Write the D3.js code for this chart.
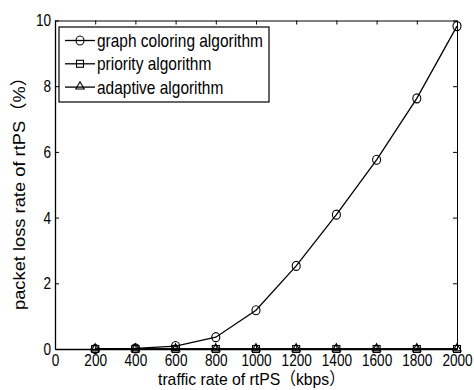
<!DOCTYPE html>
<html>
<head>
<meta charset="utf-8">
<script src="https://cdn.jsdelivr.net/npm/d3@7"></script>
<style>
  body { margin: 0; background: #fff; }
  text { font-family: "Liberation Sans", Arial, "Noto Sans CJK SC", sans-serif; }
</style>
</head>
<body>
<div id="chart"></div>
<script>
// traffic rate (kbps)
const rates = [200, 400, 600, 800, 1000, 1200, 1400, 1600, 1800, 2000];
// packet loss (%)
const graphColoring = [0, 0.02, 0.09, 0.36, 1.18, 2.53, 4.09, 5.76, 7.63, 9.83];
const priority = [0, 0, 0, 0, 0, 0, 0, 0, 0, 0];
const adaptive = [0, 0, 0, 0, 0, 0, 0, 0, 0, 0];
const seriesNames = ["graph coloring algorithm", "priority algorithm", "adaptive algorithm"];
const xTicks = [0, 200, 400, 600, 800, 1000, 1200, 1400, 1600, 1800, 2000];
const yTicks = [0, 2, 4, 6, 8, 10];

const totalWidth = 474, totalHeight = 390;
const plotLeft = 55, plotRight = 457, plotTop = 20.5, plotBottom = 349;
// the original font is a condensed helvetica, squeeze text horizontally
const squeeze = "scale(0.8,1)";

const svg = d3.select("#chart").append("svg")
  .attr("width", totalWidth)
  .attr("height", totalHeight);

const x = d3.scaleLinear().domain([0, 2000]).range([plotLeft, plotRight]);
const y = d3.scaleLinear().domain([0, 10]).range([plotBottom, plotTop]);

// frame with inward ticks (matlab style)
svg.append("g")
  .attr("transform", "translate(0," + plotBottom + ")")
  .call(d3.axisBottom(x).tickValues(xTicks).tickFormat(d3.format("d")).tickSize(-4).tickPadding(5).tickSizeOuter(0))
  .call(g => g.select(".domain").attr("stroke-width", 1.3))
  .selectAll("text").attr("font-size", 17).attr("fill", "#000").attr("transform", squeeze);
svg.append("g")
  .attr("transform", "translate(0," + plotTop + ")")
  .call(d3.axisTop(x).tickValues(xTicks).tickSize(-4).tickFormat("").tickSizeOuter(0));
svg.append("g")
  .attr("transform", "translate(" + plotLeft + ",0)")
  .call(d3.axisLeft(y).tickValues(yTicks).tickSize(-4).tickPadding(5).tickSizeOuter(0))
  .call(g => g.select(".domain").attr("stroke-width", 1.3))
  .selectAll("text").attr("font-size", 17).attr("fill", "#000").attr("transform", squeeze);
svg.append("g")
  .attr("transform", "translate(" + plotRight + ",0)")
  .call(d3.axisRight(y).tickValues(yTicks).tickSize(-4).tickFormat("").tickSizeOuter(0));

// axis titles
svg.append("text")
  .attr("x", 251.5).attr("y", 385)
  .attr("text-anchor", "middle").attr("font-size", 17)
  .attr("textLength", 187).attr("lengthAdjust", "spacingAndGlyphs")
  .text("traffic rate of rtPS（kbps）");
svg.append("text")
  .attr("transform", "translate(25,189) rotate(-90)")
  .attr("text-anchor", "middle").attr("font-size", 17)
  .attr("textLength", 242).attr("lengthAdjust", "spacingAndGlyphs")
  .text("packet loss rate of rtPS（%）");

const line = d3.line().x(d => x(d[0])).y(d => y(d[1]));
const series = [graphColoring, priority, adaptive].map(vals => rates.map((r, i) => [r, vals[i]]));

// marker drawers
function drawMarker(g, kind, cx, cy) {
  if (kind === 0) {
    g.append("ellipse").attr("cx", cx).attr("cy", cy).attr("rx", 4).attr("ry", 4.5)
      .attr("fill", "none").attr("stroke", "#000").attr("stroke-width", 1.1);
  } else if (kind === 1) {
    g.append("rect").attr("x", cx - 3.5).attr("y", cy - 3.5).attr("width", 7).attr("height", 7)
      .attr("fill", "none").attr("stroke", "#000").attr("stroke-width", 1.1);
  } else {
    g.append("path").attr("d", d3.symbol(d3.symbolTriangle, 30)())
      .attr("transform", "translate(" + cx + "," + (cy - 0.5) + ")")
      .attr("fill", "none").attr("stroke", "#000").attr("stroke-width", 1.1);
  }
}

series.forEach((pts, k) => {
  const g = svg.append("g");
  g.append("path").datum(pts).attr("d", line)
    .attr("fill", "none").attr("stroke", "#000").attr("stroke-width", 1.3);
  pts.forEach(p => drawMarker(g, k, x(p[0]), y(p[1])));
});

// legend
const lg = svg.append("g");
lg.append("rect").attr("x", 59).attr("y", 27).attr("width", 210).attr("height", 75)
  .attr("fill", "#fff").attr("stroke", "#000").attr("stroke-width", 1.2);
seriesNames.forEach((name, k) => {
  const ly = 40.5 + k * 23.3;
  lg.append("line").attr("x1", 65).attr("x2", 95).attr("y1", ly).attr("y2", ly)
    .attr("stroke", "#000").attr("stroke-width", 1.3);
  drawMarker(lg, k, 80, ly);
  lg.append("text")
    .attr("transform", "translate(97," + (ly + 6.5) + ") scale(0.86,1)")
    .attr("font-size", 18).text(name);
});
</script>
</body>
</html>
